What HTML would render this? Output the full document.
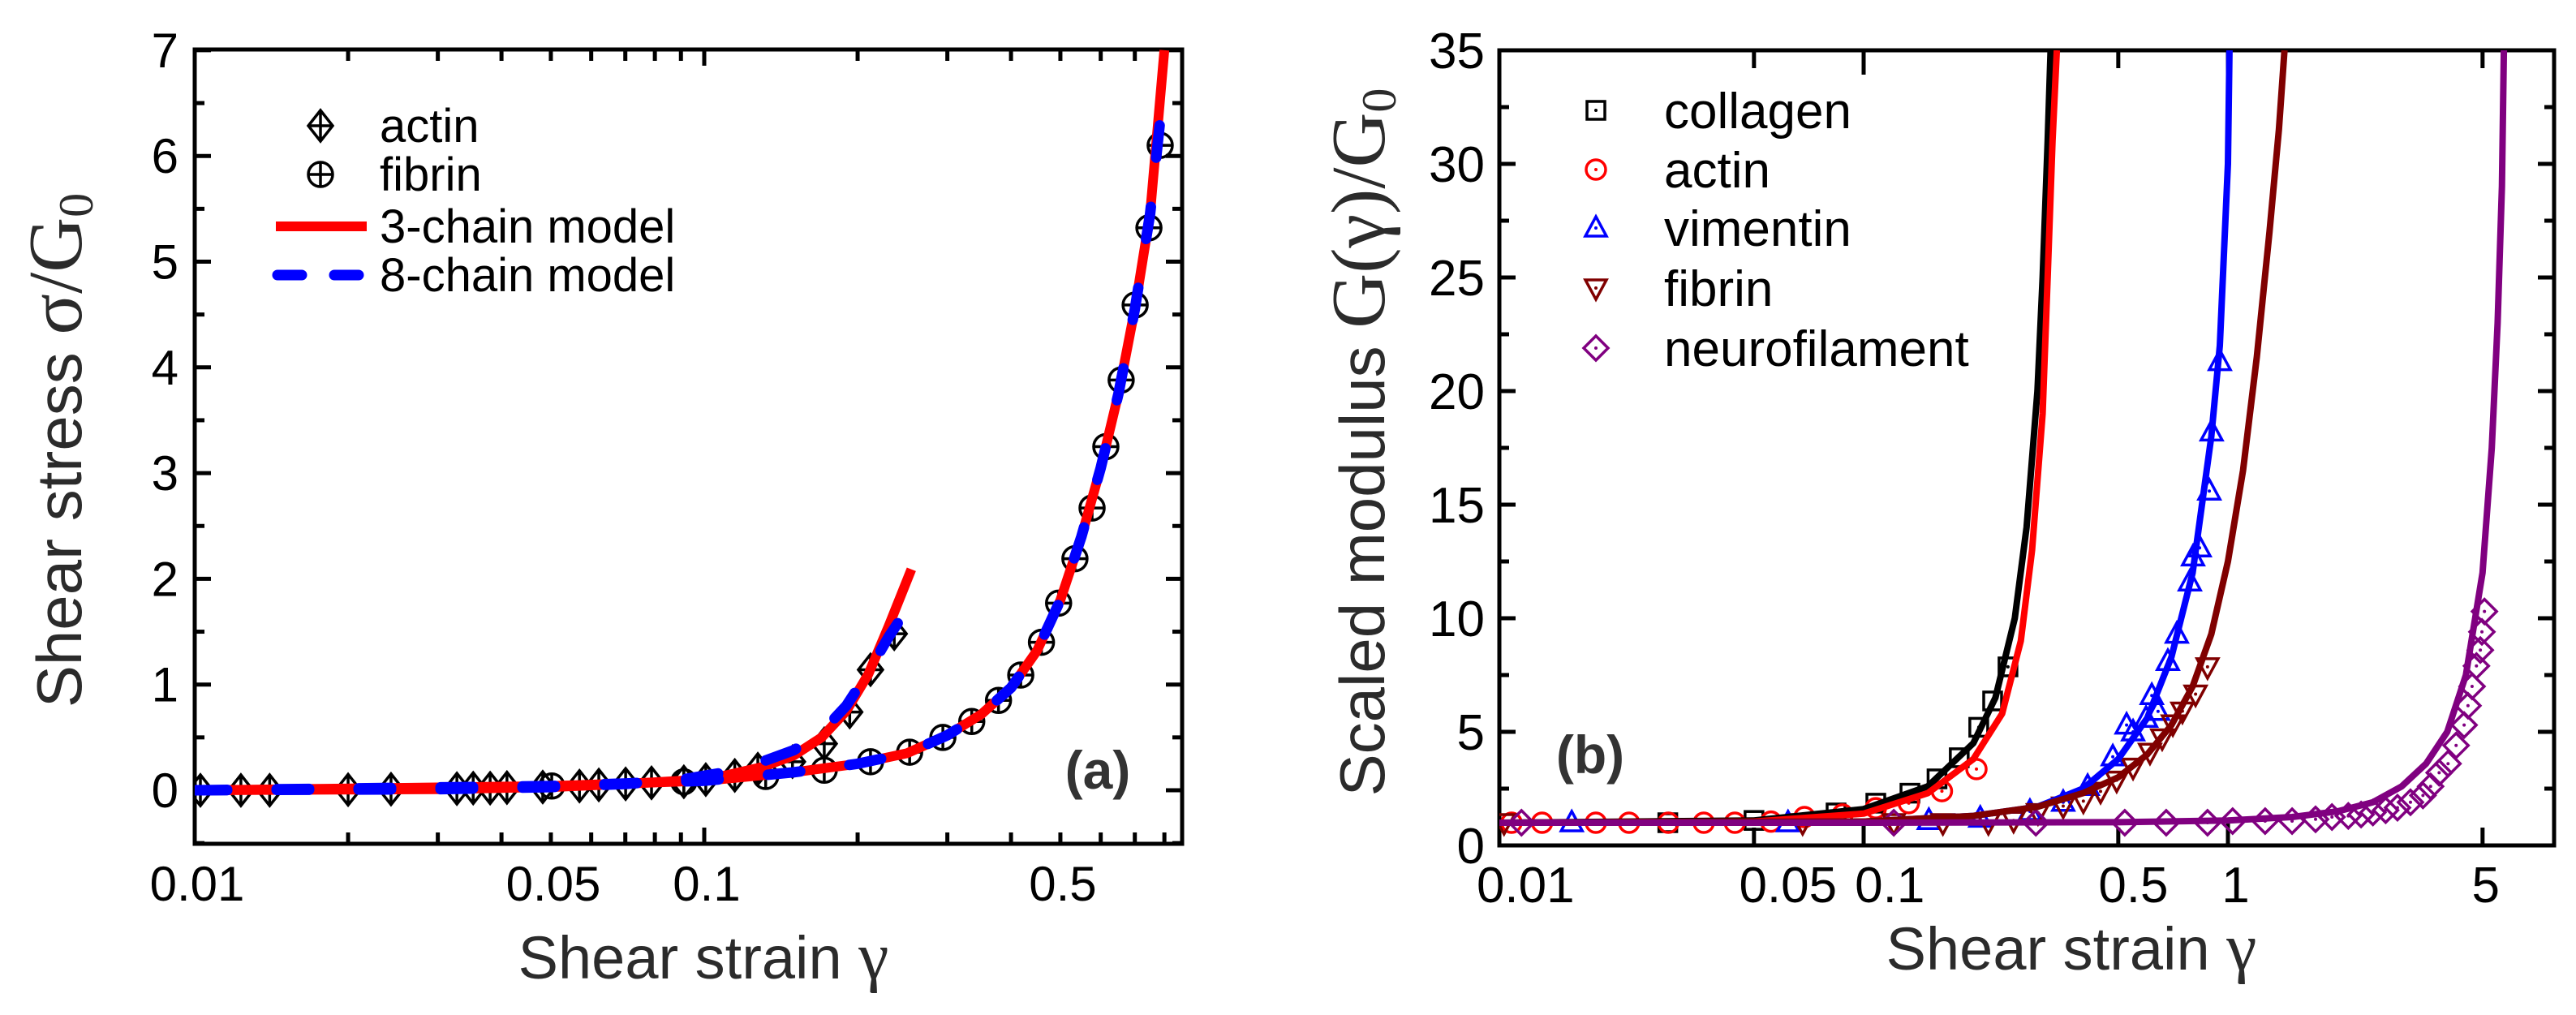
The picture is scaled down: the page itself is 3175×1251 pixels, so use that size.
<!DOCTYPE html>
<html><head><meta charset="utf-8"><style>
html,body{margin:0;padding:0;background:#fff;}
svg{display:block;}
text{font-family:"Liberation Sans",Arial,sans-serif;}
</style></head><body>
<svg id="fig" xmlns="http://www.w3.org/2000/svg" width="3175" height="1251" viewBox="0 0 3175 1251">
<defs>
<clipPath id="clipA"><rect x="240" y="61" width="1217" height="979"/></clipPath>
<clipPath id="clipB"><rect x="1848" y="62" width="1300" height="980"/></clipPath>
</defs>
<g id="panelA"></g>
<g id="panelB"></g>
<text transform="translate(100,555) rotate(-90)" text-anchor="middle" font-size="78" fill="#2b2b2b">Shear stress <tspan font-family="Liberation Serif, serif" font-size="94">σ/G</tspan><tspan font-family="Liberation Serif, serif" font-size="60" dy="14">0</tspan></text>
<text x="867" y="1206" text-anchor="middle" font-size="74" fill="#2b2b2b">Shear strain <tspan font-family="Liberation Serif, serif" font-size="84">γ</tspan></text>
<text x="1353" y="972" text-anchor="middle" font-size="66" font-weight="bold" fill="#333">(a)</text>
<text transform="translate(1706,545) rotate(-90)" text-anchor="middle" font-size="78" fill="#2b2b2b">Scaled modulus <tspan font-family="Liberation Serif, serif" font-size="94">G(γ)/G</tspan><tspan font-family="Liberation Serif, serif" font-size="60" dy="14">0</tspan></text>
<text x="2553" y="1195" text-anchor="middle" font-size="74" fill="#2b2b2b">Shear strain <tspan font-family="Liberation Serif, serif" font-size="84">γ</tspan></text>
<text x="1960" y="953" text-anchor="middle" font-size="66" font-weight="bold" fill="#333">(b)</text>
</svg>
<script>
// ---------- Panel A data ----------
const actinX = [0.01026,0.01232,0.01403,0.02,0.02428,0.0327,0.0352,0.038,0.041,0.0482,0.0569,0.0621,0.0701,0.0788,0.0912,0.1007,0.1148,0.1274,0.149,0.172,0.193,0.212,0.236];
const actinY = [0,0,0,0.005,0.01,0.015,0.02,0.02,0.025,0.03,0.04,0.05,0.06,0.07,0.08,0.1,0.14,0.2,0.27,0.44,0.74,1.14,1.48];
const fibrinAX = [0.0502,0.0912,0.132,0.172,0.212,0.253,0.294,0.335,0.378,0.418,0.459,0.496,0.534,0.577,0.614,0.658,0.701,0.746,0.785];
const fibrinAY = [0.04,0.08,0.13,0.19,0.27,0.36,0.5,0.65,0.85,1.09,1.4,1.77,2.19,2.67,3.25,3.88,4.59,5.32,6.1];
const actin3X = [0.01,0.03,0.05,0.07,0.09,0.11,0.13,0.15,0.17,0.19,0.21,0.23,0.255];
const actin3Y = [0,0.01,0.03,0.06,0.09,0.14,0.22,0.33,0.5,0.75,1.1,1.55,2.09];
const actin8X = [0.01,0.03,0.05,0.07,0.09,0.11,0.13,0.15,0.17,0.19,0.21,0.23,0.253];
const actin8Y = [0,0.01,0.03,0.06,0.1,0.17,0.27,0.38,0.55,0.8,1.12,1.45,1.75];
const fib3X = [0.01,0.05,0.1,0.15,0.2,0.25,0.3,0.35,0.4,0.45,0.5,0.55,0.6,0.65,0.7,0.75,0.8];
const fib3Y = [0,0.04,0.09,0.17,0.25,0.35,0.52,0.72,0.97,1.32,1.8,2.4,3.05,3.75,4.55,5.45,7.0];
const fib8X = [0.01,0.05,0.1,0.15,0.2,0.25,0.3,0.35,0.4,0.45,0.5,0.55,0.6,0.65,0.7,0.75,0.785];
const fib8Y = [0,0.04,0.09,0.17,0.25,0.35,0.52,0.72,0.97,1.32,1.8,2.4,3.05,3.75,4.55,5.45,6.34];
const aXTickLabels = ["0.01","0.05","0.1","0.5"];
const aXTickVals = [0.01,0.05,0.1,0.5];
const aYTickLabels = ["0","1","2","3","4","5","6","7"];

// ---------- Panel B data ----------
const collX = [0.029,0.05,0.084,0.108,0.134,0.159,0.183,0.207,0.226,0.249];
const collY = [1.0,1.1,1.43,1.86,2.3,2.93,3.86,5.2,6.36,7.86];
const bActX = [0.0108,0.0131,0.0184,0.0227,0.0291,0.0364,0.0443,0.0557,0.0688,0.0875,0.108,0.133,0.164,0.204];
const bActY = [1.0,1.0,1.0,1.0,1.0,1.0,1.0,1.05,1.25,1.36,1.64,1.86,2.39,3.36];
const vimX = [0.0158,0.062,0.151,0.209,0.286,0.353,0.412,0.483,0.527,0.549,0.596,0.618,0.643,0.684,0.724,0.786,0.802,0.836,0.889,0.902,0.95];
const vimY = [1.0,1.0,1.1,1.2,1.5,1.9,2.6,3.9,5.3,5.0,5.6,6.6,5.9,8.1,9.3,11.6,12.7,13.1,15.6,18.2,21.3];
const fibX = [0.0103,0.068,0.121,0.165,0.22,0.258,0.301,0.353,0.401,0.447,0.495,0.549,0.611,0.66,0.706,0.75,0.815,0.879];
const fibY = [1.0,1.0,1.0,1.0,1.0,1.1,1.44,1.73,1.95,2.38,2.87,3.44,4.1,4.73,5.35,5.91,6.66,7.86];
const neuX = [0.0115,0.121,0.297,0.521,0.677,0.879,1.03,1.265,1.5,1.74,1.93,2.14,2.32,2.5,2.71,2.92,3.17,3.43,3.6,3.8,4.02,4.23,4.45,4.56,4.68,4.81,4.93,4.98,5.06];
const neuY = [1.0,1.0,1.0,1.0,1.0,1.0,1.07,1.07,1.07,1.15,1.25,1.3,1.36,1.45,1.55,1.66,1.9,2.2,2.6,3.2,3.6,4.4,5.3,6.15,7.0,7.9,8.6,9.4,10.3];
const collFitX = [0.01,0.05,0.1,0.15,0.2,0.23,0.26,0.28,0.30,0.31,0.32,0.326];
const collFitY = [1,1.1,1.6,2.6,4.5,6.5,10,14,20,25,31,35];
const actFitX = [0.01,0.05,0.1,0.15,0.2,0.24,0.27,0.29,0.31,0.32,0.33,0.339];
const actFitY = [1,1.05,1.4,2.3,3.8,5.8,9,13,19,25,31,35];
const vimFitX = [0.01,0.1,0.2,0.3,0.4,0.5,0.6,0.7,0.8,0.9,0.95,1.0,1.01];
const vimFitY = [1,1.05,1.3,1.7,2.5,3.8,5.6,8.3,12,18,22,30,35];
const fibFitX = [0.01,0.1,0.2,0.3,0.4,0.5,0.6,0.7,0.8,0.9,1.0,1.1,1.2,1.3,1.38,1.43];
const fibFitY = [1,1.05,1.3,1.7,2.3,3.0,4.0,5.3,7.0,9.3,12.5,16.5,21.5,27,31.5,35];
const neuFitX = [0.01,0.1,0.5,1,1.5,2,2.5,3,3.5,4,4.5,5,5.3,5.5,5.65,5.72];
const neuFitY = [1,1,1.02,1.1,1.25,1.5,1.9,2.6,3.6,5.0,7.5,12,17.5,23,29,35];
const bXTickLabels = ["0.01","0.05","0.1","0.5","1","5"];
const bXLabelPos = [0.0118,0.062,0.118,0.55,1.05,5.1];
const bYTickLabels = ["0","5","10","15","20","25","30","35"];

const NS = "http://www.w3.org/2000/svg";
function mk(parent, tag, attrs){ const e=document.createElementNS(NS,tag); for(const k in attrs) e.setAttribute(k,attrs[k]); parent.appendChild(e); return e; }

const axA = { x0:240, x1:1457, y0:61, y1:1040, xA:v=>240+628*(Math.log10(v)+2), yA:v=>974-130.3*v };
const axB = { x0:1848, x1:3148, y0:62, y1:1042, xA:v=>2297+449*(Math.log10(v)+1), yA:v=>1042-28*v };

function frame(g, ax, name){
  const r = mk(g,'rect',{x:ax.x0,y:ax.y0,width:ax.x1-ax.x0,height:ax.y1-ax.y0,fill:'none',stroke:'#000','stroke-width':5});
  
  
}
function tick(g, x1,y1,x2,y2){ const l=mk(g,'line',{x1,y1,x2,y2,stroke:'#000','stroke-width':5});
  
   }

function pathFrom(xs, ys, ax){ return xs.map((v,i)=>(i?'L':'M')+ax.xA(v).toFixed(1)+','+ax.yA(ys[i]).toFixed(1)).join(' '); }

// ---------- Panel A ----------
const gA = document.getElementById('panelA');
frame(gA, axA, 'panel-a');
for (let d=-2; d<=-1; d++) for (let m=1; m<=9; m++){
  const v=m*Math.pow(10,d); const x=axA.xA(v); if (x<axA.x0-1||x>axA.x1+1) continue;
  const L = (m===1)?20:14;
  tick(gA,x,axA.y1,x,axA.y1-L); tick(gA,x,axA.y0,x,axA.y0+L);
}
aXTickVals.forEach((v,i)=>{
  const t=mk(gA,'text',{x:axA.xA(v)+3,y:1110,'text-anchor':'middle','font-size':60,fill:'#000'});
  t.textContent=aXTickLabels[i];
  
  
});
for (let k=-1;k<=14;k++){
  const v=k*0.5; const y=axA.yA(v); if (y<axA.y0-1||y>axA.y1+1) continue;
  const L=(k%2===0)?20:12;
  tick(gA,axA.x0,y,axA.x0+L,y); tick(gA,axA.x1,y,axA.x1-L,y);
}
aYTickLabels.forEach((s)=>{
  const t=mk(gA,'text',{x:220,y:axA.yA(+s)+21,'text-anchor':'end','font-size':60,fill:'#000'});
  t.textContent=s;
  
  
});
const clA = mk(gA,'g',{'clip-path':'url(#clipA)'});
function diamondCross(g,cx,cy){
  const gg=mk(g,'g',{stroke:'#000','stroke-width':3.5,fill:'none'});
  mk(gg,'path',{d:`M${cx},${cy-19} L${cx+15},${cy} L${cx},${cy+19} L${cx-15},${cy} Z M${cx},${cy-19} L${cx},${cy+19} M${cx-15},${cy} L${cx+15},${cy}`});
  return gg;
}
function circleCross(g,cx,cy){
  const gg=mk(g,'g',{stroke:'#000','stroke-width':3.5,fill:'none'});
  mk(gg,'circle',{cx,cy,r:15});
  mk(gg,'path',{d:`M${cx-15},${cy} L${cx+15},${cy} M${cx},${cy-15} L${cx},${cy+15}`});
  return gg;
}
actinX.forEach((v,i)=>{ const m=diamondCross(clA,axA.xA(v),axA.yA(actinY[i]));
  
   });
fibrinAX.forEach((v,i)=>{ const m=circleCross(clA,axA.xA(v),axA.yA(fibrinAY[i]));
  
   });
const redStyle={fill:'none',stroke:'#ff0000','stroke-width':12,'stroke-linejoin':'round'};
const blueStyle={fill:'none',stroke:'#0000ff','stroke-width':13,'stroke-linecap':'round','stroke-dasharray':'40 61'};
let p;
p=mk(clA,'path',Object.assign({d:pathFrom(actin3X,actin3Y,axA)},redStyle));


p=mk(clA,'path',Object.assign({d:pathFrom(fib3X,fib3Y,axA)},redStyle));


p=mk(clA,'path',Object.assign({d:pathFrom(actin8X,actin8Y,axA)},blueStyle));


p=mk(clA,'path',Object.assign({d:pathFrom(fib8X,fib8Y,axA)},blueStyle));


const lgA = mk(gA,'g',{});


diamondCross(lgA,395,155); circleCross(lgA,395,215);
mk(lgA,'line',{x1:340,y1:279,x2:452,y2:279,stroke:'#ff0000','stroke-width':12});
mk(lgA,'line',{x1:342,y1:339,x2:452,y2:339,stroke:'#0000ff','stroke-width':13,'stroke-linecap':'round','stroke-dasharray':'30 40'});
[["actin",155],["fibrin",215],["3-chain model",279],["8-chain model",339]].forEach(([s,y])=>{
  const t=mk(lgA,'text',{x:468,y:y+20,'font-size':58,fill:'#000'}); t.textContent=s;
  
  
});

// ---------- Panel B ----------
const gB = document.getElementById('panelB');
frame(gB, axB, 'panel-b');
for (let d=-2; d<=0; d++) for (const m of [1,5]){
  const v=m*Math.pow(10,d); const x=axB.xA(v); if (x<axB.x0+2||x>axB.x1-2) continue;
  const L=(m===1)?30:22;
  tick(gB,x,axB.y1,x,axB.y1-L); tick(gB,x,axB.y0,x,axB.y0+L);
}
bXTickLabels.forEach((s,i)=>{
  const t=mk(gB,'text',{x:axB.xA(bXLabelPos[i]),y:1112,'text-anchor':'middle','font-size':62,fill:'#000'});
  t.textContent=s;
  
  
});
for (let k=0;k<=14;k++){
  const y=axB.yA(k*2.5);
  const L=(k%2===0)?20:12;
  tick(gB,axB.x0,y,axB.x0+L,y); tick(gB,axB.x1,y,axB.x1-L,y);
}
bYTickLabels.forEach((s)=>{
  const t=mk(gB,'text',{x:1830,y:axB.yA(+s)+22,'text-anchor':'end','font-size':62,fill:'#000'});
  t.textContent=s;
  
  
});
const clB = mk(gB,'g',{'clip-path':'url(#clipB)'});
function marker(g,type,cx,cy,col){
  const gg=mk(g,'g',{stroke:col,'stroke-width':3.5,fill:'none'});
  if(type==='sq') mk(gg,'rect',{x:cx-11,y:cy-11,width:22,height:22});
  if(type==='ci') mk(gg,'circle',{cx,cy,r:12});
  if(type==='tu') mk(gg,'path',{d:`M${cx},${cy-14} L${cx+13},${cy+10} L${cx-13},${cy+10} Z`});
  if(type==='td') mk(gg,'path',{d:`M${cx},${cy+14} L${cx+13},${cy-10} L${cx-13},${cy-10} Z`});
  if(type==='di') mk(gg,'path',{d:`M${cx},${cy-15} L${cx+15},${cy} L${cx},${cy+15} L${cx-15},${cy} Z`});
  mk(gg,'circle',{cx,cy,r:2,fill:col,stroke:'none'});
  return gg;
}
const series = [
  ['collagen', collX, collY, 'sq', '#000000', collFitX, collFitY],
  ['actin', bActX, bActY, 'ci', '#ff0000', actFitX, actFitY],
  ['vimentin', vimX, vimY, 'tu', '#0000ff', vimFitX, vimFitY],
  ['fibrin', fibX, fibY, 'td', '#800000', fibFitX, fibFitY],
  ['neurofilament', neuX, neuY, 'di', '#800080', neuFitX, neuFitY]
];
series.forEach(([name,xs,ys,type,col])=>{
  xs.forEach((v,i)=>{ const m=marker(clB,type,axB.xA(v),axB.yA(ys[i]),col);
    
     });
});
series.forEach(([name,xs,ys,type,col,fx,fy])=>{
  const q=mk(clB,'path',{d:pathFrom(fx,fy,axB),fill:'none',stroke:col,'stroke-width':8,'stroke-linejoin':'round'});
  
  
});
const lgB = mk(gB,'g',{});


const lgY=[136,209,281,355,429];
series.forEach(([name,xs,ys,type,col],i)=>{
  marker(lgB,type,1967,lgY[i],col);
  const t=mk(lgB,'text',{x:2051,y:lgY[i]+22,'font-size':62,fill:'#000'}); t.textContent=name;
  
  
});
</script>
</body></html>
